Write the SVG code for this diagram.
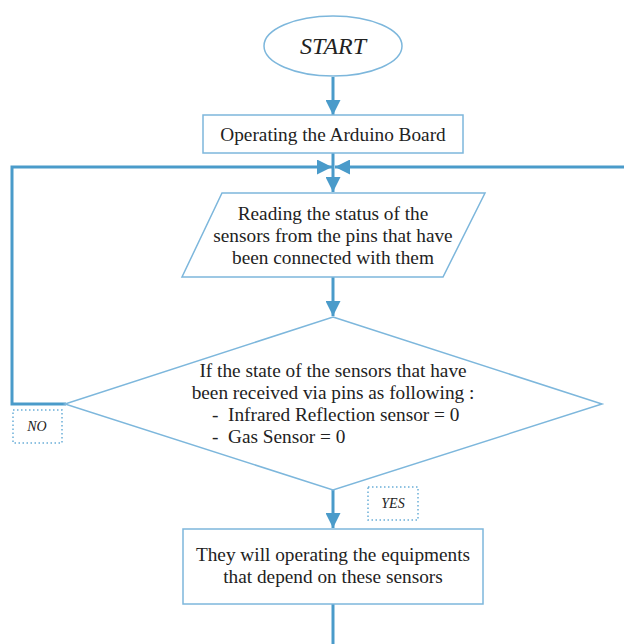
<svg xmlns="http://www.w3.org/2000/svg" width="624" height="644" viewBox="0 0 624 644">
<style>
.node{fill:#fff;stroke:#7db7dc;stroke-width:1.5}
.conn{fill:none;stroke:#4a9bca;stroke-width:3}
.t{font-family:"Liberation Serif","DejaVu Serif",serif;font-size:19.3px;fill:#222;text-anchor:middle}
.it{font-family:"Liberation Serif",serif;font-style:italic;fill:#222;text-anchor:middle}
.lbl{fill:#fff;stroke:#6aaed8;stroke-width:1.5;stroke-dasharray:1.5 2.5}
</style>
<defs>
<marker id="ah" viewBox="0 0 10 10" refX="10" refY="5" markerWidth="5" markerHeight="5" markerUnits="strokeWidth" orient="auto">
<path d="M0,0 L10,5 L0,10 z" fill="#4a9bca"/>
</marker>
</defs>
<rect width="624" height="644" fill="#fff"/>
<g id="connectors">
<line class="conn" x1="333" y1="77" x2="333" y2="115" marker-end="url(#ah)"/>
<line class="conn" x1="333" y1="153" x2="333" y2="192" marker-end="url(#ah)"/>
<polyline class="conn" points="66,404 12,404 12,167 332,167" marker-end="url(#ah)"/>
<line class="conn" x1="624" y1="167" x2="335" y2="167" marker-end="url(#ah)"/>
<line class="conn" x1="333" y1="277" x2="333" y2="316" marker-end="url(#ah)"/>
<line class="conn" x1="333" y1="490" x2="333" y2="528" marker-end="url(#ah)"/>
<line class="conn" x1="333" y1="604" x2="333" y2="644"/>
</g>
<g id="start">
<ellipse class="node" cx="333" cy="46" rx="69" ry="30"/>
<text class="it" x="333" y="54" font-size="24">START</text>
</g>
<g id="operate">
<rect class="node" x="203" y="115" width="260" height="38"/>
<text class="t" x="333" y="141">Operating the Arduino Board</text>
</g>
<g id="read">
<polygon class="node" points="222,193 485,193 443,277 182,277"/>
<text class="t" x="333" y="220">Reading the status of the</text>
<text class="t" x="333" y="242">sensors from the pins that have</text>
<text class="t" x="333" y="264">been connected with them</text>
</g>
<g id="decision">
<polygon class="node" points="333,317 602,404 333,490 65,404"/>
<text class="t" x="333" y="377">If the state of the sensors that have</text>
<text class="t" x="333" y="399">been received via pins as following :</text>
<text class="t" x="212" y="421" style="text-anchor:start">-</text>
<text class="t" x="228" y="421" style="text-anchor:start">Infrared Reflection sensor = 0</text>
<text class="t" x="212" y="443" style="text-anchor:start">-</text>
<text class="t" x="228" y="443" style="text-anchor:start">Gas Sensor = 0</text>
</g>
<g id="no">
<rect class="lbl" x="13" y="410" width="49" height="33"/>
<text class="it" x="37" y="431" font-size="14">NO</text>
</g>
<g id="yes">
<rect class="lbl" x="368" y="487" width="50" height="33"/>
<text class="it" x="393" y="508" font-size="14">YES</text>
</g>
<g id="equip">
<rect class="node" x="183" y="529" width="300" height="75"/>
<text class="t" x="333" y="561">They will operating the equipments</text>
<text class="t" x="333" y="583">that depend on these sensors</text>
</g>
</svg>
